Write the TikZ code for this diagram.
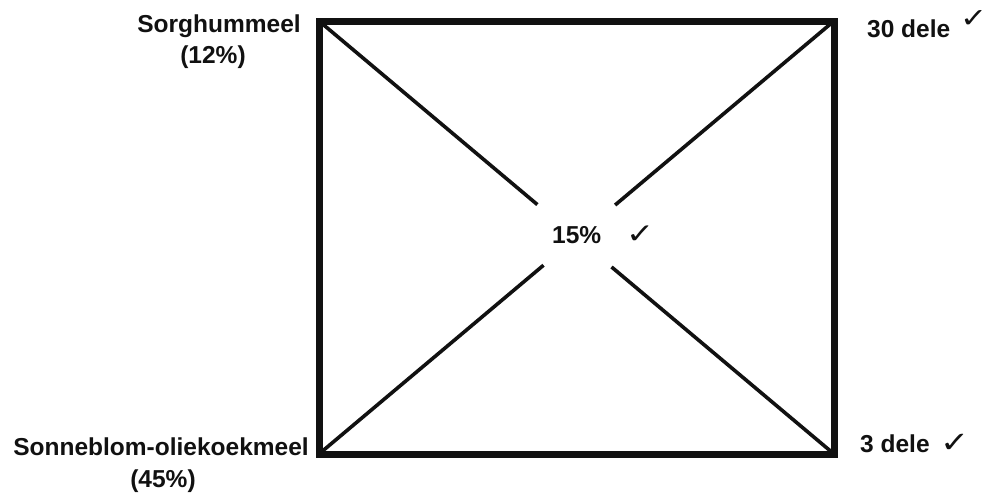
\documentclass[tikz,border=0pt]{standalone}
\usepackage{graphicx}
\usepackage{fontspec}
\setmainfont{Liberation Sans}
\newfontfamily\symfont{DejaVu Sans Bold}
\usetikzlibrary{calc}
\definecolor{ink}{HTML}{111111}
\newcommand{\chk}{\scalebox{1.2}[1]{✓}}
\tikzset{
  lbl/.style={inner sep=0pt, text=ink, font=\fontsize{24.5}{30}\selectfont\bfseries},
  tick/.style={inner sep=0pt, text=ink, font=\symfont\fontsize{#1}{#1}\selectfont},
  frame/.style={draw=ink, line width=7pt, line join=miter},
  diag/.style={draw=ink, line width=3.6pt}
}
\begin{document}
\begin{tikzpicture}[x=1pt,y=-1pt]
\useasboundingbox[fill=white] (0,0) rectangle (989,498);
\coordinate (TL) at (319,21);
\coordinate (TR) at (834,21);
\coordinate (BL) at (319,454);
\coordinate (BR) at (834,454);
\draw[frame] (TL) rectangle (BR);
\draw[diag] (TL) -- ($(TL)!0.424!(BR)$);
\draw[diag] (TR) -- ($(TR)!0.425!(BL)$);
\draw[diag] (BL) -- ($(BL)!0.436!(TR)$);
\draw[diag] (BR) -- ($(BR)!0.432!(TL)$);
\node[lbl, anchor=base] (s1) at (219,32) {Sorghummeel};
\node[lbl, anchor=base] (s2) at (213,63) {(12\%)};
\node[lbl, anchor=base] (o1) at (161,455) {Sonneblom-oliekoekmeel};
\node[lbl, anchor=base] (o2) at (163,487) {(45\%)};
\node[lbl, anchor=base west] (d30) at (867,37) {30 dele};
\node[tick=27, anchor=base west] (c30) at (960,27) {\chk};
\node[lbl, anchor=base west] (d3) at (860,452) {3 dele};
\node[tick=29, anchor=base west] (c3) at (940,452) {\chk};
\node[lbl, anchor=base west] (p15) at (552,243) {15\%};
\node[tick=28, anchor=base west] (c15) at (626,243) {\chk};
\end{tikzpicture}
\end{document}
